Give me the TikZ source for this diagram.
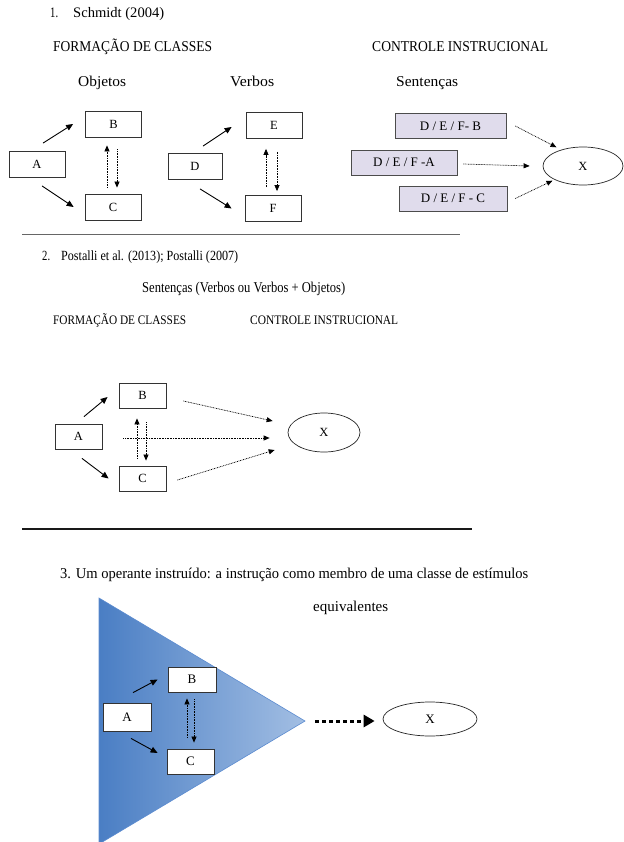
\documentclass[tikz,border=0pt]{standalone}
\usepackage{fontspec}
\setmainfont{Liberation Serif}
\usepackage{graphicx}
\usetikzlibrary{arrows.meta,shapes.geometric}
\definecolor{lav}{HTML}{E0DCEC}
\definecolor{blueL}{HTML}{4A7EC4}
\definecolor{blueR}{HTML}{A2BEE3}
\definecolor{blueB}{HTML}{5B8BD0}
\newsavebox{\fitbox}
% #1 target width, #2 font size (pt), #3 text
\newcommand{\fitw}[3]{%
  \begingroup\fontsize{#2}{#2}\selectfont
  \sbox{\fitbox}{#3}%
  \pgfmathsetmacro\fitsx{#1/\the\wd\fitbox}%
  \scalebox{\fitsx}[1]{\usebox{\fitbox}}\endgroup}
\begin{document}
\begin{tikzpicture}[x=1pt,y=-1pt,
  box/.style={draw=black!80, line width=0.8pt, fill=white, minimum width=56pt, minimum height=26pt, inner sep=0pt, font=\fontsize{12.5}{12.5}\selectfont},
  lbox/.style={box, fill=lav, draw=black!70, line width=0.6pt, minimum height=25pt, font=\fontsize{13}{13}\selectfont},
  oval/.style={ellipse, draw=black!85, line width=0.7pt, inner sep=0pt, font=\fontsize{12.5}{12.5}\selectfont},
  arr/.style={-{Triangle[length=7pt,width=6pt]}, line width=0.9pt},
  darr/.style={-{Triangle[length=6pt,width=5pt]}, line width=0.7pt, dash pattern=on 0.8pt off 0.8pt},
  hd/.style={anchor=base west, inner sep=0pt},
]
\useasboundingbox (0,0) rectangle (623,842);
\fill[white] (0,0) rectangle (623,842);

% ---------------- Section 1 ----------------
\node[hd] (n1) at (50,18) {\fitw{8pt}{14.5}{1.}};
\node[hd] (t1) at (73,18) {\fitw{91pt}{14.5}{Schmidt (2004)}};
\node[hd] (fc1) at (53,52) {\fitw{159pt}{15}{FORMAÇÃO DE CLASSES}};
\node[hd] (ci1) at (372,52) {\fitw{176pt}{15}{CONTROLE INSTRUCIONAL}};
\node[hd] (obj) at (78,87) {\fitw{48pt}{15}{Objetos}};
\node[hd] (verb) at (230,87) {\fitw{44pt}{15}{Verbos}};
\node[hd] (sent) at (396,87) {\fitw{62pt}{15}{Sentenças}};

\node[box] (A1) at (37,164.5) {A};
\node[box] (B1) at (113.5,124) {B};
\node[box] (C1) at (113,207) {C};
\node[box, minimum width=54pt] (D1) at (195,166.5) {D};
\node[box] (E1) at (274,125.5) {E};
\node[box] (F1) at (273,208.5) {F};

\draw[arr] ([xshift=6pt,yshift=8pt]A1.north) -- ([xshift=-12pt]B1.west);
\draw[arr] ([xshift=5pt,yshift=-8pt]A1.south) -- ([xshift=-11pt]C1.west);
\draw[darr] ([xshift=-6pt,yshift=6pt]C1.north) -- ([xshift=-6.5pt,yshift=-8pt]B1.south);
\draw[darr] ([xshift=3.5pt,yshift=-12pt]B1.south) -- ([xshift=4pt,yshift=6pt]C1.north);

\draw[arr] ([xshift=8pt,yshift=7pt]D1.north) -- ([xshift=-14pt,yshift=-1.5pt]E1.west);
\draw[arr] ([xshift=5pt,yshift=-9pt]D1.south) -- ([xshift=-13pt]F1.west);
\draw[darr] ([xshift=-7pt,yshift=8pt]F1.north) -- ([xshift=-8pt,yshift=-10pt]E1.south);
\draw[darr] ([xshift=3pt,yshift=-13pt]E1.south) -- ([xshift=4pt,yshift=4pt]F1.north);

\node[lbox, minimum width=111pt] (SB) at (450.5,126) {D / E / F- B};
\node[lbox, minimum width=106pt] (SA) at (404,162.5) {D / E / F -A};
\node[lbox, minimum width=108pt] (SC) at (453,198.5) {D / E / F - C};
\node[oval, minimum width=80pt, minimum height=38pt] (X1) at (583,166) {X};

\draw[darr] ([xshift=9pt]SB.east) -- ([xshift=2pt,yshift=5pt]X1.north west);
\draw[darr] ([xshift=6pt,yshift=-1.5pt]SA.east) -- ([xshift=-13pt]X1.west);
\draw[darr] ([xshift=8pt]SC.east) -- ([xshift=-2pt,yshift=-1pt]X1.south west);

\draw[black!60, line width=0.6pt] (22,234) -- (460,234);

% ---------------- Section 2 ----------------
\node[hd] (n2) at (42,260) {\fitw{8pt}{14}{2.}};
\node[hd] (t2) at (61,260) {\fitw{177pt}{14}{Postalli et al. (2013); Postalli (2007)}};
\node[hd] (sent2) at (142,292) {\fitw{203pt}{15}{Sentenças (Verbos ou Verbos + Objetos)}};
\node[hd] (fc2) at (53,324.5) {\fitw{133pt}{13}{FORMAÇÃO DE CLASSES}};
\node[hd] (ci2) at (250,324.5) {\fitw{148pt}{13}{CONTROLE INSTRUCIONAL}};

\node[box, minimum width=47pt, minimum height=25pt] (A2) at (78.5,436.5) {A};
\node[box, minimum width=47pt, minimum height=25pt] (B2) at (142.5,395.5) {B};
\node[box, minimum width=47pt, minimum height=25pt] (C2) at (142.5,478.5) {C};
\node[oval, minimum width=72pt, minimum height=39pt] (X2) at (324,432.5) {X};

\draw[arr] ([xshift=5.5pt,yshift=7pt]A2.north) -- ([xshift=-11pt,yshift=-1.5pt]B2.west);
\draw[arr] ([xshift=3.5pt,yshift=-9pt]A2.south) -- ([xshift=-10pt]C2.west);
\draw[darr] ([xshift=-5.5pt,yshift=7pt]C2.north) -- ([xshift=-5.5pt,yshift=-10pt]B2.south);
\draw[darr] ([xshift=3.5pt,yshift=-14pt]B2.south) -- ([xshift=3.5pt,yshift=5pt]C2.north);
\draw[darr] ([xshift=17pt,yshift=-5.5pt]B2.east) -- ([xshift=-15pt,yshift=11.5pt]X2.west);
\draw[darr] ([xshift=21pt,yshift=-1.5pt]A2.east) -- ([xshift=-18pt,yshift=-5.5pt]X2.west);
\draw[darr] ([xshift=11pt,yshift=-1.5pt]C2.east) -- ([xshift=-13pt,yshift=-17.5pt]X2.west);

\draw[black!90, line width=2pt] (22,529) -- (472,529);

% ---------------- Section 3 ----------------
\node[hd] (t3) at (60,578.5) {\fitw{468pt}{15}{3. Um operante instruído: a instrução como membro de uma classe de estímulos}};
\node[hd] (eq) at (313,611.5) {\fitw{75pt}{15}{equivalentes}};

\shade[left color=blueL, right color=blueR, draw=blueB, line width=0.6pt]
  (99,598) -- (305,721) -- (99,844) -- cycle;
\coordinate (apex) at (305,721);

\node[box, minimum width=48pt, minimum height=25pt, font=\fontsize{13}{13}\selectfont] (B3) at (192,679.5) {B};
\node[box, minimum width=48pt, minimum height=28pt, font=\fontsize{13}{13}\selectfont] (A3) at (127,717) {A};
\node[box, minimum width=47pt, minimum height=25pt, font=\fontsize{13}{13}\selectfont] (C3) at (190.5,761.5) {C};
\node[oval, minimum width=94pt, minimum height=34pt, font=\fontsize{13}{13}\selectfont] (X3) at (430,719) {X};

\draw[arr] ([xshift=6pt,yshift=10pt]A3.north) -- ([xshift=-10pt]B3.west);
\draw[arr] ([xshift=4pt,yshift=-7pt]A3.south) -- ([xshift=-9pt,yshift=8.5pt]C3.west);
\draw[darr] ([xshift=-3.5pt,yshift=11pt]C3.north) -- ([xshift=-5pt,yshift=-6pt]B3.south);
\draw[darr] ([xshift=2pt,yshift=-7pt]B3.south) -- ([xshift=3.5pt,yshift=6pt]C3.north);

\draw[-{Triangle[length=11pt,width=12pt]}, line width=3pt, dash pattern=on 4pt off 3pt]
  ([xshift=10pt]apex) -- ([xshift=-8pt,yshift=-2pt]X3.west);
\end{tikzpicture}
\end{document}
